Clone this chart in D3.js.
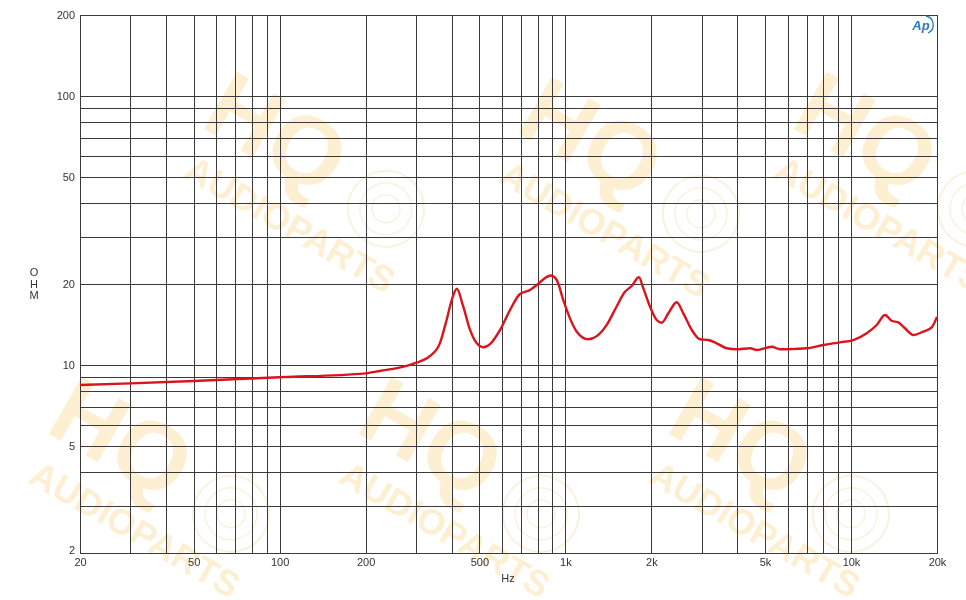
<!DOCTYPE html>
<html><head><meta charset="utf-8">
<script src="https://cdn.jsdelivr.net/npm/d3@7"></script>
<style>body{margin:0;background:#fff}svg{display:block}text{font-family:"Liberation Sans",Arial,sans-serif}</style>
</head><body>
<svg id="c" width="966" height="600"></svg>
<script>
// ---- data ----
const freqs = [20,30,50,100,200,224,293,336,364,384,400,417,439,464,489,516,545,591,640,694,752,794,837,889,933,984,1038,1096,1203,1288,1396,1512,1617,1707,1810,1874,1978,2088,2174,2294,2454,2588,2770,2960,3165,3386,3670,3978,4430,4676,5276,5642,6998,7998,9150,10186,11350,12300,13150,13880,14640,15450,16520,17900,19160,20000];
const ohms  = [8.42,8.54,8.72,9.00,9.31,9.5,10.1,10.8,12.06,14.7,17.4,19.2,16.5,13.5,12.06,11.64,11.96,13.5,16.0,18.36,19.0,19.83,20.8,21.5,20.7,17.4,14.9,13.3,12.46,12.8,14.1,16.5,18.7,19.66,21.2,19.3,16.5,14.7,14.36,15.56,17.1,15.56,13.5,12.46,12.38,12.04,11.54,11.44,11.54,11.37,11.69,11.44,11.54,11.86,12.14,12.38,13.12,14.08,15.34,14.6,14.4,13.69,12.93,13.3,13.8,15.1];
const xGrid = [30,40,50,60,70,80,90,100,200,300,400,500,600,700,800,900,1000,2000,3000,4000,5000,6000,7000,8000,9000,10000];
const yGrid = [3,4,5,6,7,8,9,10,20,30,40,50,60,70,80,90,100];
const xTickVals = [20,50,100,200,500,1000,2000,5000,10000,20000];
const xTickLabels = ["20","50","100","200","500","1k","2k","5k","10k","20k"];
const yTickVals = [2,5,10,20,50,100,200];
const yTickLabels = ["2","5","10","20","50","100","200"];

const svg = d3.select("#c");
const L=80,R=937,T=15,B=553;
const x = d3.scaleLog().domain([20,20000]).range([L,R]);
const y = d3.scaleLog().domain([2,200]).range([B,T]);

// watermark
const wm = svg.append("g").attr("class","watermark").attr("opacity",0.4);
const wmPos = [[290,225],[605,230],[880,225],[135,530],[445,530],[755,530]];
wmPos.forEach(([cx,cy])=>{
  const g = wm.append("g").attr("transform",`translate(${cx},${cy}) rotate(30)`);
  g.append("text").attr("x",-57).attr("y",-40).attr("text-anchor","middle")
    .attr("font-size",96).attr("font-weight","bold").attr("fill","#fbd78e").text("HQ");
  g.append("text").attr("x",0).attr("y",12).attr("text-anchor","middle")
    .attr("font-size",36).attr("font-weight","bold").attr("fill","#fbd78e").text("AUDIOPARTS");
  g.append("circle").attr("cx",75).attr("cy",-62).attr("r",38).attr("fill","none")
    .attr("stroke","#f6dcb0").attr("stroke-width",2);
  g.append("circle").attr("cx",75).attr("cy",-62).attr("r",26).attr("fill","none")
    .attr("stroke","#f6dcb0").attr("stroke-width",1.5);
  g.append("circle").attr("cx",75).attr("cy",-62).attr("r",14).attr("fill","none")
    .attr("stroke","#f6dcb0").attr("stroke-width",1.5);
});

// grid
const grid = svg.append("g").attr("stroke","#3a3a3a").attr("stroke-width",1).attr("shape-rendering","crispEdges");
grid.selectAll("line.v").data(xGrid).join("line").attr("class","v")
  .attr("x1",d=>Math.round(x(d))+0.5).attr("x2",d=>Math.round(x(d))+0.5).attr("y1",T).attr("y2",B);
grid.selectAll("line.h").data(yGrid).join("line").attr("class","h")
  .attr("y1",d=>Math.round(y(d))+0.5).attr("y2",d=>Math.round(y(d))+0.5).attr("x1",L).attr("x2",R);
svg.append("rect").attr("x",L+0.5).attr("y",T+0.5).attr("width",R-L).attr("height",B-T)
  .attr("fill","none").attr("stroke","#3a3a3a").attr("stroke-width",1).attr("shape-rendering","crispEdges");

// axes labels
const xAxis = d3.axisBottom(x).tickValues(xTickVals).tickFormat((d,i)=>xTickLabels[i]).tickSize(0).tickPadding(5);
const gx = svg.append("g").attr("transform",`translate(0,${B})`).call(xAxis);
gx.select(".domain").remove();
gx.selectAll("text").attr("font-size",11).attr("fill","#333").attr("font-family","Liberation Sans, Arial, sans-serif");

const yAxis = d3.axisLeft(y).tickValues(yTickVals).tickFormat((d,i)=>yTickLabels[i]).tickSize(0).tickPadding(5);
const gy = svg.append("g").attr("transform",`translate(${L},0)`).call(yAxis);
gy.select(".domain").remove();
gy.selectAll("text").attr("font-size",11).attr("fill","#333").attr("font-family","Liberation Sans, Arial, sans-serif");
gy.selectAll(".tick").filter(d=>d===2).select("text").attr("dy","0.05em");

svg.append("text").attr("x",508).attr("y",582).attr("text-anchor","middle")
  .attr("font-size",11).attr("fill","#333").text("Hz");
["O","H","M"].forEach((c,i)=>{
  svg.append("text").attr("x",34).attr("y",276+i*11.5).attr("text-anchor","middle")
    .attr("font-size",11).attr("fill","#333").text(c);
});

// Ap logo
svg.append("text").attr("x",921).attr("y",30).attr("text-anchor","middle")
  .attr("font-size",13).attr("font-style","italic").attr("font-weight","bold")
  .attr("fill","#2a7db8").text("Ap");
svg.append("path").attr("d","M926,16 A9,9 0 0 1 928,33").attr("fill","none")
  .attr("stroke","#2a7db8").attr("stroke-width",1.3);

// curve
const pts = freqs.map((f,i)=>[f,ohms[i]]);
const line = d3.line().x(d=>x(d[0])).y(d=>y(d[1])).curve(d3.curveMonotoneX);
svg.append("path").datum(pts).attr("d",line).attr("fill","none")
  .attr("stroke","#d9141c").attr("stroke-width",2.4).attr("stroke-linejoin","round");
</script>
</body></html>
